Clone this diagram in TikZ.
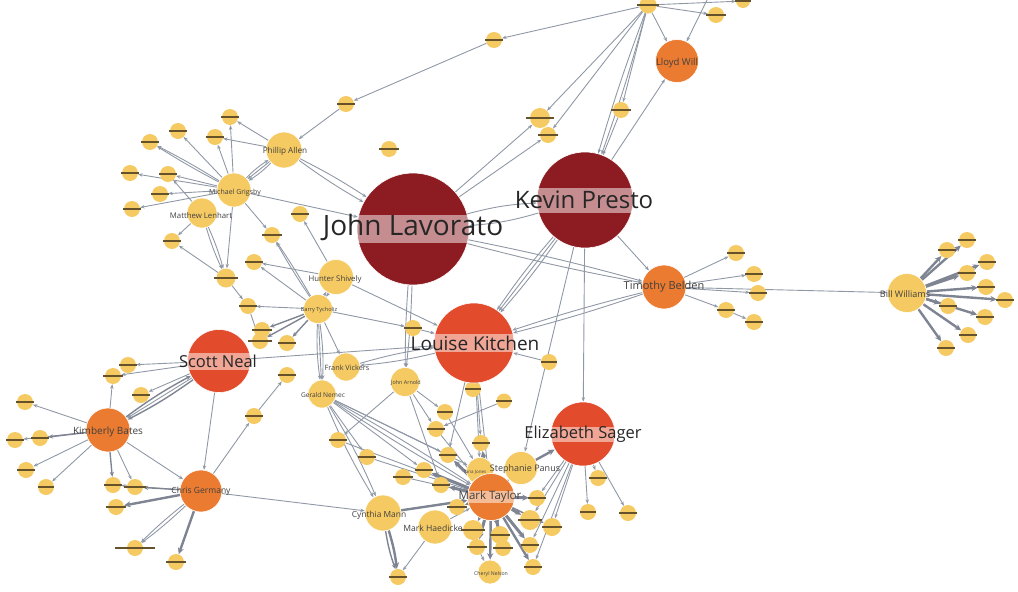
\documentclass[tikz,border=0pt]{standalone}
\usepackage{fontspec}
\setmainfont{Open Sans}
\usetikzlibrary{arrows.meta}
\pgfdeclarelayer{links}
\pgfsetlayers{links,main}
\definecolor{dred}{HTML}{8C1C22}
\definecolor{rorange}{HTML}{E24B2B}
\definecolor{orng}{HTML}{EA7B30}
\definecolor{yel}{HTML}{F6CA62}
\definecolor{edgec}{HTML}{9098A6}
\definecolor{edged}{HTML}{7E8492}
\definecolor{barc}{HTML}{65512A}
\begin{document}
\begin{tikzpicture}[x=1pt,y=-1pt,
  dot/.style={circle,fill=yel,inner sep=0pt},
  person/.style={circle,inner sep=0pt,draw=white,line width=0.6pt},
  band/.style={path picture={\fill[white,fill opacity=0.5]
      ([yshift=-#1]path picture bounding box.west) rectangle
      ([yshift=#1]path picture bounding box.east);}},
  hub/.style={person,fill=dred},
  lead/.style={person,fill=rorange},
  mid/.style={person,fill=orng},
  peer/.style={person,fill=yel},
  bigtag/.style={text=black!85,inner sep=0pt},
  tag/.style={text=black!75,inner sep=0pt},
  e/.style={draw=edgec,line width=0.9pt,-{Stealth[length=4.5pt,width=3.4pt]}},
  em/.style={draw=edged,line width=1.4pt,-{Stealth[length=5pt,width=4.2pt]}},
  ew/.style={draw=edged,line width=2.4pt,-{Stealth[length=6.5pt,width=6pt]}},
]
\useasboundingbox (0,0) rectangle (1018,592);

% ---------- small unnamed contacts (label shown as a dark bar) ----------
\foreach \n/\x/\y/\d/\w in {
  t1/648/5/17pt/11, t2/716/15/16pt/10, t3/743/1/14pt/8, t4/494/40/16pt/9,
  t5/346/104/16pt/9, t6/389/149/16pt/10, t7/540/118/20pt/14, t8/548/135/16pt/10,
  t9/621/110/16pt/10,
  a1/230/117/16pt/9, a2/178/131/16pt/9, a3/215/137/16pt/9, a4/150/142/16pt/9,
  a5/130/173/16pt/9, a6/168/174/16pt/9, a7/160/194/16pt/9, a8/132/209/16pt/9,
  a9/172/241/16pt/9, a10/300/214/16pt/9, a11/272/235/16pt/10, a12/254/262/16pt/9,
  a13/226/278/19pt/12, a14/248/306/16pt/9, a15/262/330/16pt/10, a16/260/341/16pt/12,
  a17/287/343/16pt/9, a18/287/375/16pt/9, a19/254/416/16pt/9, a20/413/328/16pt/9,
  b1/128/365/16pt/9, b2/113/376/16pt/10, b3/141/395/16pt/9, b4/25/402/16pt/9,
  b5/15/440/16pt/9, b6/40/438/16pt/9, b7/26/470/16pt/9, b8/46/487/16pt/8,
  b9/113/485/16pt/9, b10/135/487/16pt/11, b11/116/507/16pt/10, b12/135/548/16pt/20,
  b13/176/562/16pt/10,
  c1/549/362/16pt/8, c2/473/389/16pt/8, c3/504/401/15pt/8, c4/445/412/16pt/8,
  c5/436/429/16pt/9, c6/338/440/16pt/9, c7/367/457/16pt/9, c8/481/443/16pt/9,
  c9/448/455/16pt/9, c10/424/470/16pt/9, c11/403/477/16pt/10, c12/441/485/16pt/9,
  c13/457/507/16pt/10, c14/537/498/16pt/9, c15/598/478/16pt/9, c16/588/512/16pt/8,
  c17/628/513/16pt/9, c18/552/527/18pt/10, c19/530/520/20pt/12, c20/473/530/20pt/12,
  c21/500/535/18pt/10, c22/477/547/16pt/10, c23/503/548/16pt/10, c24/530/545/16pt/9,
  c25/533/567/16pt/9, c26/398/577/16pt/9,
  d1/736/253/16pt/9, d2/754/274/16pt/9, d3/758/293/16pt/9, d4/726/310/16pt/9,
  d5/754/322/16pt/9,
  e1/967/240/16pt/9, e2/947/250/16pt/9, e3/987/262/16pt/9, e4/967/273/16pt/9,
  e5/986/287/16pt/9, e6/1005/300/16pt/9, e7/948/306/16pt/9, e8/985/317/16pt/9,
  e9/968/335/16pt/9, e10/946/348/16pt/9}
{
  \node[dot,minimum size=\d] (\n) at (\x,\y) {};
  \fill[barc] (\x-\w,\y-1.2) rectangle (\x+\w,\y+1.2);
}

% ---------- named people ----------
\node[peer,minimum size=39pt] (bw) at (907,293) {};
\node[peer,minimum size=36pt] (pa) at (284,150) {};
\node[peer,minimum size=34pt] (mg) at (234,190) {};
\node[peer,minimum size=30pt] (ml) at (202,213) {};
\node[peer,minimum size=35pt] (hs) at (336,277) {};
\node[peer,minimum size=29pt] (bt) at (318,309) {};
\node[peer,minimum size=28pt] (fv) at (346,367) {};
\node[peer,minimum size=28pt] (gn) at (322,394) {};
\node[peer,minimum size=29pt] (ja) at (405,382) {};
\node[peer,minimum size=33pt] (sp) at (521,468) {};
\node[peer,minimum size=27pt] (tj) at (480,471) {};
\node[peer,minimum size=36pt] (cm) at (383,513) {};
\node[peer,minimum size=34pt] (mh) at (435,527) {};
\node[peer,minimum size=24pt] (cn) at (490,572) {};

\node[mid,minimum size=44pt] (kb) at (108,430) {};
\node[mid,minimum size=42pt] (cg) at (201,491) {};
\node[mid,minimum size=44pt] (tb) at (664,287) {};
\node[mid,minimum size=43pt] (lw) at (677,61) {};
\node[mid,minimum size=47pt,band=6pt] (mt) at (491,497) {};

\node[hub,minimum size=112pt,band=14pt] (jl) at (413,229) {};
\node[hub,minimum size=96pt,band=12.5pt] (kp) at (585,200) {};
\node[lead,minimum size=80pt,band=9pt] (lk) at (474,343) {};
\node[lead,minimum size=64pt,band=7.5pt] (es) at (583,434) {};
\node[lead,minimum size=63pt,band=8.5pt] (sn) at (219,361) {};

% ---------- labels ----------
\node[bigtag,font=\fontsize{28}{30}\selectfont] (jlT) at (413,227) {John Lavorato};
\node[bigtag,font=\fontsize{24}{26}\selectfont] (kpT) at (584,200) {Kevin Presto};
\node[bigtag,font=\fontsize{19}{21}\selectfont] (lkT) at (475,343) {Louise Kitchen};
\node[bigtag,font=\fontsize{16.5}{18}\selectfont] (esT) at (583,434) {Elizabeth Sager};
\node[bigtag,font=\fontsize{16.5}{18}\selectfont] (snT) at (218,361) {Scott Neal};
\node[tag,font=\fontsize{10}{11}\selectfont] (kbT) at (108,432) {Kimberly Bates};
\node[tag,font=\fontsize{8.5}{9}\selectfont] (cgT) at (201,491) {Chris Germany};
\node[tag,font=\fontsize{11}{12}\selectfont] (tbT) at (664,287) {Timothy Belden};
\node[tag,font=\fontsize{9.5}{10}\selectfont] (lwT) at (677,63) {Lloyd Will};
\node[tag,font=\fontsize{11.5}{12}\selectfont] (mtT) at (490,497) {Mark Taylor};
\node[tag,font=\fontsize{9}{10}\selectfont] (bwT) at (905,294) {Bill Williams};
\node[tag,font=\fontsize{8.2}{9}\selectfont] (paT) at (285,151) {Phillip Allen};
\node[tag,font=\fontsize{7}{8}\selectfont] (mgT) at (235,193) {Michael Grigsby};
\node[tag,font=\fontsize{7.8}{8}\selectfont] (mlT) at (201,216) {Matthew Lenhart};
\node[tag,font=\fontsize{7.8}{8}\selectfont] (hsT) at (335,279) {Hunter Shively};
\node[tag,font=\fontsize{5.6}{6}\selectfont] (btT) at (319,310) {Barry Tycholiz};
\node[tag,font=\fontsize{7.3}{8}\selectfont] (fvT) at (347,368) {Frank Vickers};
\node[tag,font=\fontsize{6.6}{7}\selectfont] (gnT) at (323,395) {Gerald Nemec};
\node[tag,font=\fontsize{5.4}{6}\selectfont] (jaT) at (406,383) {John Arnold};
\node[tag,font=\fontsize{9}{10}\selectfont] (spT) at (525,469) {Stephanie Panus};
\node[tag,font=\fontsize{4.5}{5}\selectfont] (tjT) at (475,472) {Tana Jones};
\node[tag,font=\fontsize{8.4}{9}\selectfont] (cmT) at (379,515) {Cynthia Mann};
\node[tag,font=\fontsize{8.6}{9}\selectfont] (mhT) at (433,528) {Mark Haedicke};
\node[tag,font=\fontsize{5.2}{6}\selectfont] (cnT) at (491,574) {Cheryl Nelson};

\coordinate (up) at (707,0);

% ---------- connections ----------
\begin{pgfonlayer}{links}
% top of the graph
\draw[e] (t1) -- (t4);
\draw[e] (t4) -- (t5);
\draw[e] (t5) -- (pa);
\draw[e] (t1) -- (t7);
\draw[e] (t1) -- (t8);
\draw[e] (t1) to[bend left=2] (kp);
\draw[e] (t1) to[bend right=2] (kp);
\draw[e] (t1) -- (t9);
\draw[e] (t9) -- (kp);
\draw[e] (t1) -- (lw);
\draw[e] (t1) -- (t2);
\draw[e] (t1) -- (t3);
\draw[e] (up) -- (lw);
\draw[e] (kp) -- (lw);
\draw[e] (jl) -- (t7);
\draw[e] (jl) -- (t8);
\draw[e] (jl) to[bend left=6] (kp);
\draw[e] (kp) to[bend left=6] (jl);
\draw[e] (pa) to[bend left=3] (jl);
\draw[e] (pa) to[bend right=3] (jl);
\draw[e] (mg) -- (jl);
\draw[e] (jl) to[bend left=2] (tb);
\draw[e] (jl) to[bend right=2] (tb);
\draw[e] (kp) -- (tb);
\draw[e] (jl) to[bend left=2] (ja);
\draw[e] (jl) to[bend right=2] (ja);
\draw[e] (kp) to[bend left=3] (lk);
\draw[e] (kp) -- (lk);
\draw[e] (kp) to[bend right=3] (lk);
\draw[e] (kp) -- (es);
\draw[e] (kp) -- (sp);
\draw[e] (tb) to[bend left=2] (lk);
\draw[e] (tb) to[bend right=2] (lk);
\draw[e] (hs) -- (lk);
\draw[e] (bt) -- (a20);
\draw[e] (a20) -- (lk);
\draw[e] (sn) -- (lk);
\draw[e] (fv) to[bend left=4] (lk);
\draw[e] (lk) to[bend left=4] (fv);
\draw[e] (lk) -- (tj);
\draw[e] (lk) -- (c8);
\draw[e] (lk) -- (c9);
\draw[e] (lk) -- (mt);
\draw[e] (lk) -- (c2);
\draw[e] (c1) -- (lk);
\draw[e] (c3) -- (c5);
\draw[e] (ja) -- (c5);
\draw[e] (ja) -- (c4);
\draw[e] (ja) -- (c6);
\draw[e] (ja) -- (c12);
% Gerald Nemec and Barry Tycholiz
\draw[e] (gn) to[bend left=2] (mt);
\draw[e] (gn) to[bend right=2] (mt);
\draw[e] (gn) -- (c10);
\draw[e] (gn) -- (c9);
\draw[e] (gn) -- (tj);
\draw[e] (gn) to[bend left=4] (cm);
\draw[e] (gn) to[bend right=4] (cm);
\draw[e] (gn) -- (c7);
\draw[e] (hs) to[bend left=4] (bt);
\draw[e] (bt) to[bend left=4] (hs);
\draw[e] (bt) to[bend left=5] (gn);
\draw[e] (bt) -- (gn);
\draw[e] (bt) to[bend right=5] (gn);
\draw[e] (bt) -- (fv);
\draw[em] (bt) -- (a15);
\draw[em] (bt) -- (a16);
\draw[em] (bt) -- (a17);
\draw[e] (bt) -- (a14);
\draw[e] (bt) -- (a12);
\draw[e] (bt) to[bend left=2] (a11);
\draw[e] (bt) to[bend right=2] (a11);
\draw[e] (hs) -- (a10);
\draw[e] (hs) -- (a12);
% Michael Grigsby, Matthew Lenhart, Phillip Allen
\draw[e] (a13) -- (a9);
\draw[e] (mg) -- (a13);
\draw[e] (ml) to[bend left=4] (a13);
\draw[e] (ml) to[bend right=4] (a13);
\draw[e] (a13) -- (a14);
\draw[e] (a14) -- (a16);
\draw[e] (mg) -- (a11);
\draw[e] (ml) -- (a9);
\draw[e] (mg) -- (a2);
\draw[e] (mg) to[bend left=2] (a4);
\draw[e] (mg) to[bend right=2] (a4);
\draw[e] (mg) -- (a5);
\draw[e] (mg) -- (a6);
\draw[e] (mg) -- (a7);
\draw[e] (mg) -- (a8);
\draw[e] (mg) -- (a1);
\draw[e] (mg) -- (a3);
\draw[e] (pa) -- (a1);
\draw[e] (pa) -- (a3);
\draw[e] (pa) to[bend left=6] (mg);
\draw[e] (mg) to[bend left=6] (pa);
\draw[e] (pa) -- (mg);
\draw[e] (ml) -- (a6);
% Scott Neal, Kimberly Bates, Chris Germany
\draw[e] (sn) -- (b1);
\draw[e] (sn) -- (b2);
\draw[e] (sn) -- (b3);
\draw[em] (sn) to[bend left=4] (kb);
\draw[e] (sn) -- (kb);
\draw[em] (kb) to[bend left=4] (sn);
\draw[e] (sn) -- (cg);
\draw[e] (kb) -- (b4);
\draw[e] (kb) -- (b5);
\draw[em] (kb) -- (b6);
\draw[e] (kb) -- (b7);
\draw[e] (kb) -- (b8);
\draw[e] (kb) -- (b2);
\draw[em] (kb) -- (b9);
\draw[e] (kb) -- (b10);
\draw[e] (kb) -- (cg);
\draw[e] (cg) -- (a19);
\draw[e] (a19) -- (a18);
\draw[e] (cg) -- (b9);
\draw[em] (cg) -- (b10);
\draw[ew] (cg) -- (b11);
\draw[e] (cg) to[bend left=3] (b12);
\draw[e] (cg) to[bend right=3] (b12);
\draw[ew] (cg) -- (b13);
\draw[e] (cg) -- (cm);
% Cynthia Mann, Mark Haedicke
\draw[ew] (cm) to[bend left=5] (c26);
\draw[em] (cm) to[bend right=5] (c26);
\draw[e] (mh) -- (c26);
\draw[ew] (cm) -- (mt);
\draw[e] (mh) -- (mt);
\draw[e] (c6) -- (mt);
\draw[e] (c7) -- (mt);
\draw[e] (c11) -- (mt);
% Mark Taylor's dense neighbourhood
\foreach \m in {c8,c9,c10,c12,c13,c14,c19,c20,c21,c22,c23,c24,tj,sp}
  \draw[ew,line width=3pt] (mt) -- (\m);
\draw[ew] (mt) -- (c25);
\draw[ew] (mt) -- (cn);
\draw[em] (mt) -- (c18);
\draw[e] (c22) -- (cn);
\draw[e] (c5) -- (mt);
\draw[e] (c4) -- (tj);
% Elizabeth Sager
\draw[e] (es) -- (c15);
\draw[e] (es) -- (c16);
\draw[e] (es) -- (c17);
\draw[e] (es) -- (c14);
\draw[e] (es) -- (c19);
\draw[e] (es) -- (c18);
\draw[e] (es) -- (c24);
\draw[e] (es) -- (c25);
\draw[ew] (sp) -- (es);
% Timothy Belden and Bill Williams
\draw[e] (tb) -- (d1);
\draw[e] (tb) -- (d2);
\draw[e] (tb) -- (d3);
\draw[e] (tb) -- (d4);
\draw[e] (d4) -- (d5);
\draw[e] (tb) -- (bw);
\foreach \m in {e1,e2,e3,e4,e5,e6,e7,e8,e9,e10}
  \draw[ew] (bw) -- (\m);
\end{pgfonlayer}
\end{tikzpicture}
\end{document}
